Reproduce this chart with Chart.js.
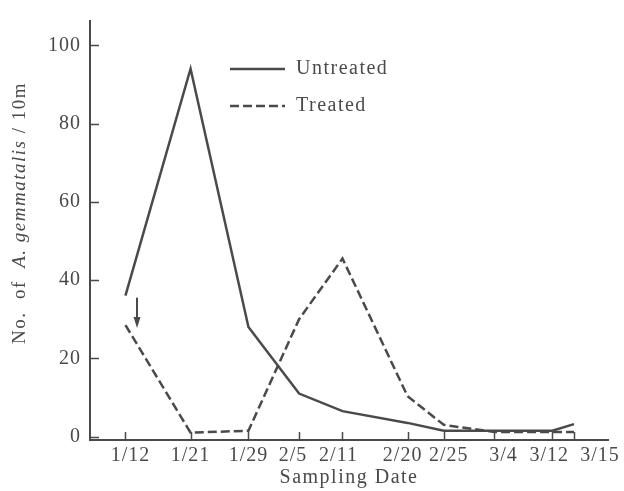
<!DOCTYPE html>
<html>
<head>
<meta charset="utf-8">
<script src="https://cdn.jsdelivr.net/npm/chart.js@4"></script>
<style>
  body { margin: 0; background: #fff; }
  #chart { display: block; }
</style>
</head>
<body>
<canvas id="chart" width="624" height="491"></canvas>
<script>
const dates = ['1/12', '1/21', '1/29', '2/5', '2/11', '2/20', '2/25', '3/4', '3/12', '3/15'];
const dayOffsets = [0, 9, 17, 24, 30, 39, 44, 51, 59, 62];
const untreated = [36, 94, 28, 11, 6.5, 3.5, 1.5, 1.5, 1.5, 3.2];
const treated = [28.5, 1, 1.5, 30, 45.5, 10.3, 3, 1.2, 1.2, 1.2];
const yTicks = [0, 20, 40, 60, 80, 100];

const ink = '#4a4a4a';
const serif = '"Liberation Serif", "DejaVu Serif", serif';
// the printed date labels are spread a little so they do not collide
const labelNudge = [5, 0, 0, -6, -4, -5, 5, 9, -3, 26];

const toPoints = (vals) => vals.map((v, i) => ({ x: dayOffsets[i], y: v }));

// inward ticks, date labels, axis titles, arrow and legend
const extras = {
    id: 'extras',
    beforeDraw(chart) {
        chart.ctx.letterSpacing = '1px';
    },
    afterDraw(chart) {
        const ctx = chart.ctx;
        const xs = chart.scales.x;
        const ys = chart.scales.y;
        const area = chart.chartArea;
        ctx.save();
        ctx.strokeStyle = ink;
        ctx.fillStyle = ink;
        ctx.lineWidth = 1.5;
        ctx.beginPath();
        yTicks.forEach(v => {
            const py = Math.round(ys.getPixelForValue(v)) + 0.5;
            ctx.moveTo(area.left, py);
            ctx.lineTo(area.left + 9, py);
        });
        dayOffsets.forEach(d => {
            const px = Math.round(xs.getPixelForValue(d)) + 0.5;
            ctx.moveTo(px, area.bottom);
            ctx.lineTo(px, area.bottom - 8);
        });
        ctx.stroke();

        // date labels
        ctx.font = '20px ' + serif;
        ctx.letterSpacing = '1px';
        ctx.textAlign = 'center';
        ctx.textBaseline = 'middle';
        dayOffsets.forEach((d, i) => {
            ctx.fillText(dates[i], xs.getPixelForValue(d) + labelNudge[i], area.bottom + 16);
        });

        // arrow at first sampling date
        const ax = xs.getPixelForValue(1.6);
        const ay1 = ys.getPixelForValue(35.5);
        const ay2 = ys.getPixelForValue(28);
        ctx.lineWidth = 2;
        ctx.beginPath();
        ctx.moveTo(ax, ay1);
        ctx.lineTo(ax, ay2 - 2);
        ctx.stroke();
        ctx.beginPath();
        ctx.moveTo(ax, ay2 + 1);
        ctx.lineTo(ax - 3.5, ay2 - 10);
        ctx.lineTo(ax + 3.5, ay2 - 10);
        ctx.closePath();
        ctx.fill();

        // legend
        ctx.lineWidth = 2.5;
        ctx.beginPath();
        ctx.moveTo(230, 69);
        ctx.lineTo(285, 69);
        ctx.stroke();
        ctx.setLineDash([9, 4]);
        ctx.beginPath();
        ctx.moveTo(230, 106);
        ctx.lineTo(285, 106);
        ctx.stroke();
        ctx.setLineDash([]);
        ctx.letterSpacing = '1.5px';
        ctx.font = '20px ' + serif;
        ctx.textAlign = 'left';
        ctx.fillText('Untreated', 296, 69);
        ctx.fillText('Treated', 296, 106);

        // x title
        ctx.letterSpacing = '1.5px';
        ctx.textAlign = 'center';
        ctx.fillText('Sampling Date', (area.left + area.right) / 2, 478);

        // y title with italic species name
        ctx.translate(20, 213);
        ctx.rotate(-Math.PI / 2);
        const parts = [
            ['No.  of  ', 'normal'],
            ['A. gemmatalis', 'italic'],
            [' / 10m', 'normal']
        ];
        ctx.letterSpacing = '1.5px';
        let total = 0;
        parts.forEach(p => {
            ctx.font = p[1] + ' 19px ' + serif;
            total += ctx.measureText(p[0]).width;
        });
        let cx = -total / 2;
        ctx.textAlign = 'left';
        parts.forEach(p => {
            ctx.font = p[1] + ' 19px ' + serif;
            ctx.fillText(p[0], cx, 0);
            cx += ctx.measureText(p[0]).width;
        });
        ctx.restore();
    }
};

new Chart(document.getElementById('chart'), {
    type: 'line',
    data: {
        datasets: [{
            label: 'Untreated',
            data: toPoints(untreated),
            borderColor: ink,
            borderWidth: 2.5,
            pointRadius: 0,
            tension: 0
        }, {
            label: 'Treated',
            data: toPoints(treated),
            borderColor: ink,
            borderWidth: 2.5,
            borderDash: [9, 4],
            pointRadius: 0,
            tension: 0
        }]
    },
    options: {
        responsive: false,
        animation: false,
        devicePixelRatio: 1,
        layout: { padding: { top: 10, right: 16, left: 0, bottom: 0 } },
        plugins: {
            legend: { display: false },
            tooltip: { enabled: false }
        },
        scales: {
            x: {
                type: 'linear',
                min: -4.9,
                max: 66.7,
                afterFit: (scale) => { scale.height = 51; },
                afterBuildTicks: (scale) => { scale.ticks = dayOffsets.map(v => ({ value: v })); },
                grid: { display: false, drawTicks: false, tickLength: 0 },
                border: { display: true, color: ink, width: 2 },
                ticks: { display: false }
            },
            y: {
                min: -0.87,
                max: 106.2,
                afterFit: (scale) => { scale.width = 90; },
                afterBuildTicks: (scale) => { scale.ticks = yTicks.map(v => ({ value: v })); },
                grid: { display: false, drawTicks: false, tickLength: 0 },
                border: { display: true, color: ink, width: 2 },
                ticks: {
                    color: ink,
                    padding: 9,
                    font: { family: serif, size: 20 }
                }
            }
        }
    },
    plugins: [extras]
});
</script>
</body>
</html>
